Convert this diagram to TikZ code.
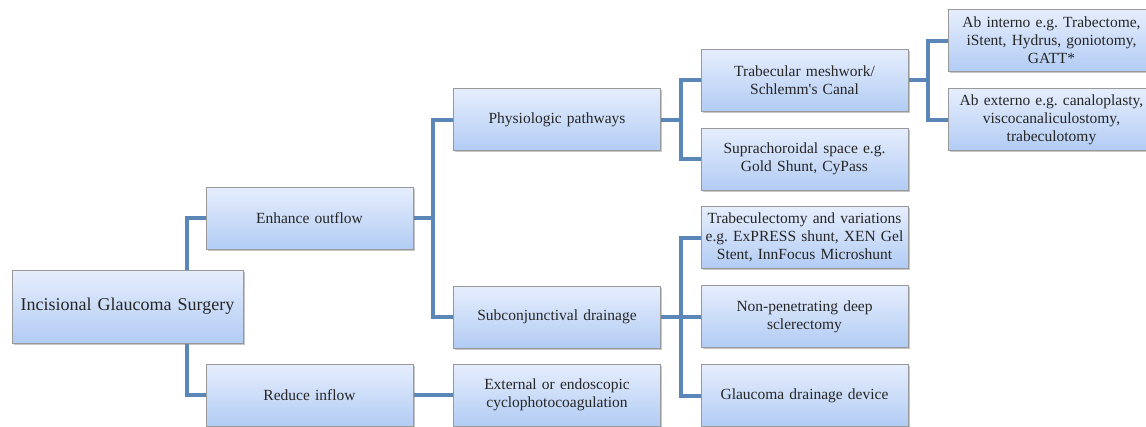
\documentclass[tikz,border=0pt]{standalone}
\usepackage{fontspec}
\setmainfont{Liberation Serif}
\frenchspacing
\usetikzlibrary{shadows,backgrounds}
\definecolor{boxtop}{HTML}{E6EEFD}
\definecolor{boxbot}{HTML}{B2CCF4}
\definecolor{link}{HTML}{5A87B8}
\tikzset{
  box/.style={draw=gray!80,line width=0.8pt,top color=boxtop,bottom color=boxbot,
    drop shadow={shadow xshift=1.5pt,shadow yshift=-1.5pt,opacity=0.45},
    minimum width=207pt,minimum height=62pt,text width=205pt,inner sep=1pt,
    align=center,text=black!85,font=\fontsize{15.5}{18}\selectfont},
  link/.style={draw=link,line width=4pt}
}
\begin{document}
\begin{tikzpicture}[x=1pt,y=-1pt]
    \useasboundingbox (0,0) rectangle (1146,426);
    \node[box,minimum width=231pt,text width=229pt,minimum height=73pt,font=\fontsize{18}{21}\selectfont] (root) at (127.5,306.5) {Incisional Glaucoma Surgery};
    \node[box] (enh) at (309.5,218) {Enhance outflow};
    \node[box] (red) at (309.5,395) {Reduce inflow};
    \node[box] (phys) at (557,119.5) {Physiologic pathways};
    \node[box] (subc) at (557,317) {Subconjunctival drainage};
    \node[box] (ext) at (557,395) {External or endoscopic\\cyclophotocoagulation};
    \node[box] (trab) at (804.5,80) {Trabecular meshwork/\\Schlemm\textquotesingle s Canal};
    \node[box] (supra) at (804.5,159) {Suprachoroidal space e.g.\\Gold Shunt, CyPass};
    \node[box] (trabec) at (804.5,237.5) {Trabeculectomy and variations\\e.g. ExPRESS shunt, XEN Gel\\Stent, InnFocus Microshunt};
    \node[box] (nonpen) at (804.5,316.5) {Non-penetrating deep\\sclerectomy};
    \node[box] (gdd) at (804.5,395.5) {Glaucoma drainage device};
    \node[box] (abint) at (1051.5,40.5) {Ab interno e.g. Trabectome,\\iStent, Hydrus, goniotomy,\\GATT*};
    \node[box] (abext) at (1051.5,119.5) {Ab externo e.g. canaloplasty,\\viscocanaliculostomy,\\trabeculotomy};
    \coordinate (rj) at (187,0);
    \coordinate (ej) at (433,0);
    \coordinate (pj) at (681,0);
    \coordinate (tj) at (928,0);
    \begin{scope}[on background layer]
    \draw[link] (enh.west) -| (root.north -| rj);
    \draw[link] (red.west) -| (root.south -| rj);
    \draw[link] (phys.west) -| (enh.east -| ej) |- (subc.west);
    \draw[link] (enh.east) -- (enh.east -| ej);
    \draw[link] (red.east) -- (ext.west);
    \draw[link] (trab.west) -| (phys.east -| pj) |- (supra.west);
    \draw[link] (phys.east) -- (phys.east -| pj);
    \draw[link] (trabec.west) -| (subc.east -| pj) |- (gdd.west);
    \draw[link] (subc.east) -- (nonpen.west |- subc.east);
    \draw[link] (abint.west) -| (trab.east -| tj) |- (abext.west);
    \draw[link] (trab.east) -- (trab.east -| tj);
    \end{scope}
\end{tikzpicture}
\end{document}
